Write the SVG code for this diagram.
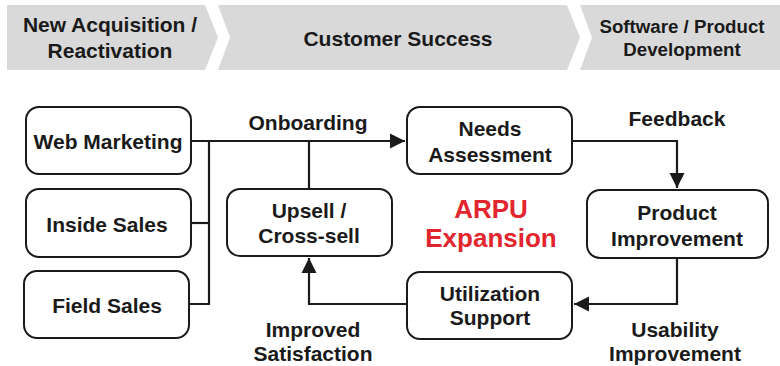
<svg xmlns="http://www.w3.org/2000/svg" width="780" height="366" viewBox="0 0 780 366">
<defs>
<style>
.band{fill:#d9d9d9}
.hd{font-family:"Liberation Sans",Arial,sans-serif;font-weight:bold;fill:#1a1a1a;text-anchor:middle}
.box{fill:#fff;stroke:#1a1a1a;stroke-width:2}
.t{font-family:"Liberation Sans",Arial,sans-serif;font-weight:bold;font-size:21px;fill:#1a1a1a;text-anchor:middle}
.red{font-family:"Liberation Sans",Arial,sans-serif;font-weight:bold;font-size:26px;fill:#e3262e;text-anchor:middle}
.ln{fill:none;stroke:#1a1a1a;stroke-width:2.2}
</style>
<marker id="ah" viewBox="0 0 10 10" refX="10" refY="5" markerWidth="7" markerHeight="7" markerUnits="strokeWidth" orient="auto">
<path d="M0,0 L10,5 L0,10 z" fill="#1a1a1a"/>
</marker>
</defs>
<g id="header">
<polygon class="band" points="7,5 205,5 218,37.5 205,70 7,70"/>
<polygon class="band" points="218,5 567,5 580,37.5 567,70 218,70 230,37.5"/>
<polygon class="band" points="580,5 780,5 780,70 580,70 592,37.5"/>
<text class="hd" font-size="21" x="110" y="32">New Acquisition /</text>
<text class="hd" font-size="21" x="110" y="58">Reactivation</text>
<text class="hd" font-size="21" x="398" y="46">Customer Success</text>
<text class="hd" font-size="18.7" x="682" y="33">Software / Product</text>
<text class="hd" font-size="18.7" x="682" y="56">Development</text>
</g>
<g id="connectors">
<polyline class="ln" points="191,141 405,141" marker-end="url(#ah)"/>
<polyline class="ln" points="209,141 209,304 189,304"/>
<polyline class="ln" points="191,223 209,223"/>
<polyline class="ln" points="309,141 309,189"/>
<polyline class="ln" points="572,141 677,141 677,188" marker-end="url(#ah)"/>
<polyline class="ln" points="677,258 677,304 574,304" marker-end="url(#ah)"/>
<polyline class="ln" points="407,304 309,304 309,258" marker-end="url(#ah)"/>
</g>
<g id="web-marketing">
<rect class="box" x="26" y="107" width="165" height="67" rx="13"/>
<text class="t" x="108" y="149">Web Marketing</text>
</g>
<g id="inside-sales">
<rect class="box" x="26" y="189" width="165" height="68" rx="13"/>
<text class="t" x="107" y="232">Inside Sales</text>
</g>
<g id="field-sales">
<rect class="box" x="24" y="271" width="165" height="67" rx="13"/>
<text class="t" x="107" y="313">Field Sales</text>
</g>
<g id="upsell">
<rect class="box" x="227" y="189" width="165" height="67" rx="13"/>
<text class="t" x="309" y="218">Upsell /</text>
<text class="t" x="309" y="243">Cross-sell</text>
</g>
<g id="needs-assessment">
<rect class="box" x="407" y="107" width="165" height="67" rx="13"/>
<text class="t" x="490" y="136">Needs</text>
<text class="t" x="490" y="162">Assessment</text>
</g>
<g id="product-improvement">
<rect class="box" x="587" y="190" width="181" height="68" rx="13"/>
<text class="t" x="677" y="220">Product</text>
<text class="t" x="677" y="246">Improvement</text>
</g>
<g id="utilization-support">
<rect class="box" x="407" y="272" width="165" height="67" rx="13"/>
<text class="t" x="490" y="301">Utilization</text>
<text class="t" x="490" y="325">Support</text>
</g>
<g id="labels">
<text class="t" x="308" y="130">Onboarding</text>
<text class="t" x="677" y="126">Feedback</text>
<text class="t" x="675" y="337">Usability</text>
<text class="t" x="675" y="361">Improvement</text>
<text class="t" x="313" y="337">Improved</text>
<text class="t" x="313" y="361">Satisfaction</text>
<text class="red" x="491" y="218">ARPU</text>
<text class="red" x="491" y="247">Expansion</text>
</g>
</svg>
